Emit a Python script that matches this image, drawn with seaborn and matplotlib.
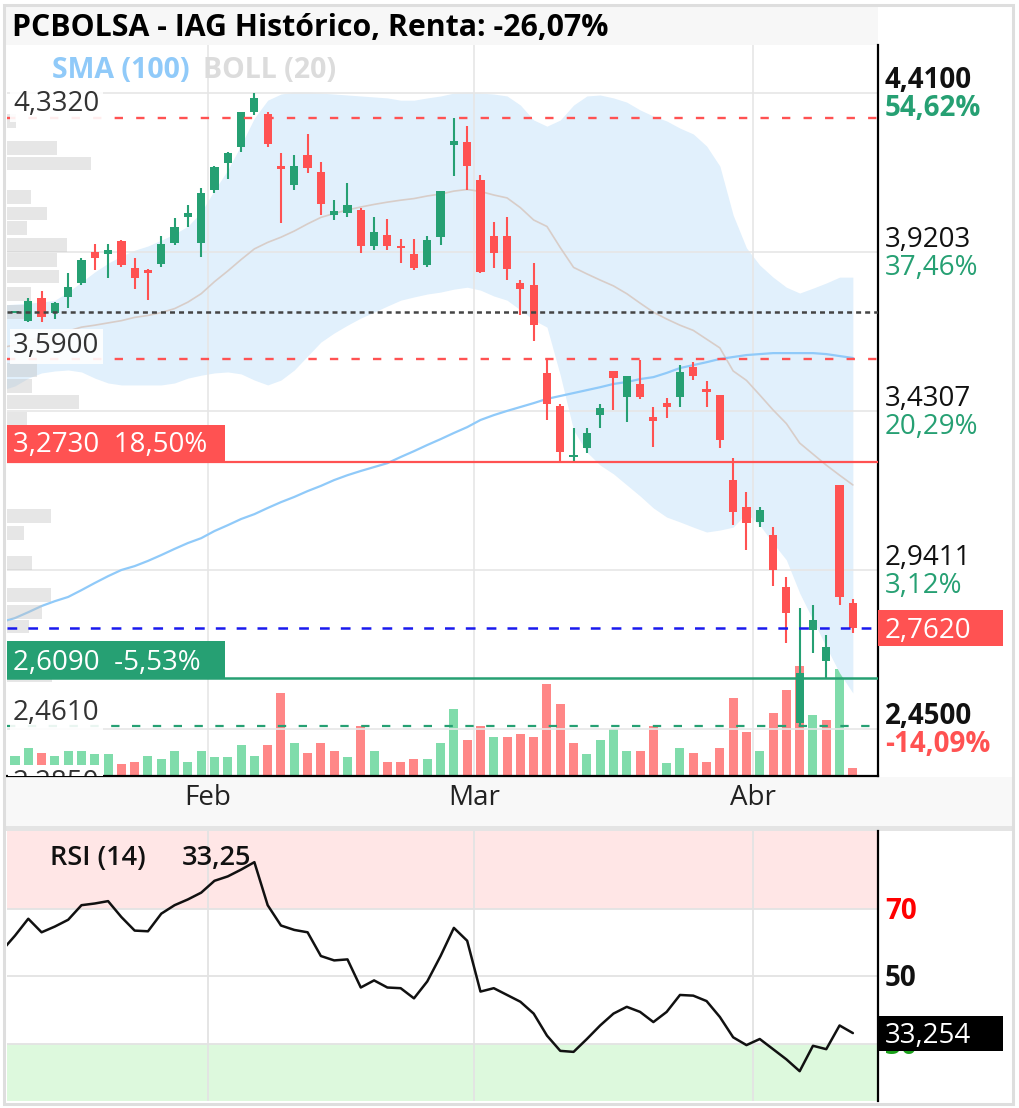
import numpy as np
import pandas as pd
import matplotlib
matplotlib.use('Agg')
import matplotlib.pyplot as plt
import seaborn as sns
from matplotlib.patches import Rectangle
from matplotlib.transforms import blended_transform_factory as blend

sns.set_theme(style='white')
plt.rcParams['font.family'] = ['Open Sans', 'DejaVu Sans']
plt.rcParams['lines.scale_dashes'] = False

# sesiones del 10-ene-2025 al 10-abr-2025
dates = pd.bdate_range('2025-01-10', '2025-04-10')
month_names = {1: 'Ene', 2: 'Feb', 3: 'Mar', 4: 'Abr'}

opens = [3.732, 3.734, 3.709, 3.779, 3.732, 3.782, 3.825, 3.920, 3.914, 3.954,
         3.871, 3.865, 3.883, 3.948, 4.028, 3.948, 4.111, 4.194, 4.244, 4.351,
         4.345, 4.185, 4.127, 4.219, 4.167, 4.034, 4.040, 4.050, 3.939, 3.973,
         3.939, 3.914, 3.880, 3.966, 4.250, 4.259, 4.142, 3.970, 3.970, 3.825,
         3.819, 3.548, 3.446, 3.289, 3.317, 3.418, 3.554, 3.474, 3.514, 3.412,
         3.455, 3.474, 3.566, 3.498, 3.480, 3.218, 3.135, 3.089, 3.049, 2.888,
         2.470, 2.756, 2.660, 3.203, 2.839]
highs = [3.742, 3.738, 3.779, 3.800, 3.766, 3.856, 3.902, 3.945, 3.945, 3.957,
         3.902, 3.868, 3.970, 4.025, 4.065, 4.117, 4.185, 4.228, 4.351, 4.410,
         4.351, 4.225, 4.219, 4.284, 4.198, 4.080, 4.133, 4.056, 4.028, 4.022,
         3.960, 3.960, 3.970, 4.108, 4.332, 4.308, 4.157, 4.013, 4.028, 3.834,
         3.886, 3.590, 3.452, 3.378, 3.378, 3.452, 3.554, 3.538, 3.588, 3.443,
         3.471, 3.572, 3.581, 3.523, 3.480, 3.286, 3.181, 3.135, 3.073, 2.919,
         2.824, 2.833, 2.741, 3.203, 2.851]
lows = [3.705, 3.732, 3.705, 3.705, 3.714, 3.748, 3.819, 3.865, 3.840, 3.874,
        3.806, 3.772, 3.874, 3.942, 3.997, 3.905, 4.102, 4.145, 4.228, 4.342,
        4.244, 4.010, 4.111, 4.164, 4.034, 4.019, 4.028, 3.917, 3.926, 3.926,
        3.886, 3.865, 3.874, 3.942, 4.154, 4.111, 3.856, 3.871, 3.834, 3.726,
        3.646, 3.403, 3.273, 3.273, 3.301, 3.378, 3.434, 3.398, 3.467, 3.320,
        3.409, 3.443, 3.526, 3.443, 3.317, 3.079, 3.002, 3.073, 2.892, 2.716,
        2.461, 2.685, 2.609, 2.833, 2.747]
closes = [3.711, 3.736, 3.770, 3.720, 3.763, 3.812, 3.896, 3.902, 3.926, 3.880,
          3.840, 3.856, 3.945, 3.997, 4.040, 4.102, 4.182, 4.225, 4.351, 4.395,
          4.253, 4.176, 4.185, 4.179, 4.068, 4.046, 4.065, 3.939, 3.982, 3.939,
          3.933, 3.871, 3.957, 4.108, 4.262, 4.185, 3.859, 3.917, 3.868, 3.806,
          3.695, 3.452, 3.304, 3.295, 3.363, 3.440, 3.532, 3.538, 3.474, 3.400,
          3.443, 3.551, 3.538, 3.489, 3.341, 3.119, 3.086, 3.126, 2.941, 2.808,
          2.624, 2.787, 2.704, 2.858, 2.762]
# volumen en millones de títulos
volumes = [10, 10, 14, 11.5, 10, 12.5, 12.5, 11, 11, 6,
           7, 10, 8.5, 12.5, 7, 12.5, 9.5, 9.5, 15.5, 10,
           15.5, 41.5, 16.5, 11.5, 16.5, 12.5, 9.5, 25, 12.5, 7,
           7, 8.5, 8.5, 16.5, 33.5, 18, 25, 19.5, 19.5, 21,
           19.5, 46, 36, 16.5, 11, 18, 23.5, 12.5, 12.5, 25,
           6.5, 14, 11.5, 7, 14, 39, 22, 12.5, 31.5, 43,
           55, 30.5, 28, 53.5, 4]
boll_upper = [3.757, 3.760, 3.763, 3.766, 3.772, 3.797, 3.828, 3.859, 3.886, 3.908,
              3.926, 3.939, 3.957, 3.976, 4.000, 4.043, 4.111, 4.173, 4.250, 4.333,
              4.388, 4.407, 4.413, 4.413, 4.410, 4.407, 4.404, 4.401, 4.398, 4.395,
              4.388, 4.388, 4.395, 4.401, 4.410, 4.413, 4.410, 4.407, 4.401, 4.373,
              4.327, 4.308, 4.327, 4.373, 4.401, 4.404, 4.395, 4.382, 4.358, 4.339,
              4.324, 4.302, 4.284, 4.247, 4.185, 4.034, 3.933, 3.880, 3.843, 3.812,
              3.794, 3.809, 3.825, 3.843, 3.843]
boll_mid = [3.626, 3.634, 3.648, 3.657, 3.663, 3.677, 3.689, 3.695, 3.702, 3.709,
            3.719, 3.725, 3.734, 3.746, 3.766, 3.792, 3.829, 3.862, 3.897, 3.930,
            3.950, 3.966, 3.985, 4.007, 4.027, 4.039, 4.050, 4.059, 4.067, 4.074,
            4.080, 4.085, 4.093, 4.099, 4.108, 4.113, 4.107, 4.096, 4.087, 4.057,
            4.019, 3.999, 3.934, 3.873, 3.853, 3.834, 3.816, 3.792, 3.763, 3.735,
            3.714, 3.695, 3.679, 3.652, 3.625, 3.554, 3.525, 3.480, 3.434, 3.392,
            3.332, 3.298, 3.264, 3.233, 3.203]
boll_lower = [3.495, 3.508, 3.532, 3.548, 3.554, 3.557, 3.551, 3.532, 3.517, 3.511,
              3.511, 3.511, 3.511, 3.517, 3.532, 3.541, 3.548, 3.551, 3.545, 3.526,
              3.511, 3.526, 3.557, 3.600, 3.643, 3.671, 3.695, 3.717, 3.735, 3.754,
              3.772, 3.782, 3.791, 3.797, 3.806, 3.812, 3.803, 3.785, 3.772, 3.742,
              3.711, 3.689, 3.541, 3.372, 3.304, 3.264, 3.237, 3.203, 3.169, 3.132,
              3.104, 3.089, 3.073, 3.058, 3.064, 3.073, 3.116, 3.079, 3.024, 2.972,
              2.870, 2.787, 2.704, 2.624, 2.562]
sma100 = [2.781, 2.793, 2.811, 2.830, 2.845, 2.858, 2.879, 2.901, 2.922, 2.941,
          2.953, 2.969, 2.987, 3.006, 3.024, 3.039, 3.061, 3.079, 3.098, 3.113,
          3.132, 3.150, 3.166, 3.184, 3.200, 3.218, 3.233, 3.246, 3.258, 3.270,
          3.289, 3.307, 3.326, 3.344, 3.363, 3.381, 3.403, 3.418, 3.431, 3.443,
          3.455, 3.468, 3.477, 3.486, 3.495, 3.504, 3.514, 3.520, 3.529, 3.535,
          3.548, 3.563, 3.572, 3.581, 3.591, 3.597, 3.603, 3.606, 3.609, 3.609,
          3.609, 3.609, 3.606, 3.600, 3.594]
rsi14 = [57.5, 62.0, 67.0, 63.0, 64.7, 66.7, 71.0, 71.5, 72.2, 67.5,
         63.5, 63.3, 68.5, 71.0, 72.7, 74.7, 78.2, 79.5, 81.5, 83.7,
         71.0, 65.0, 63.7, 63.0, 56.0, 54.7, 55.0, 46.7, 48.8, 46.7,
         46.5, 43.5, 48.5, 56.0, 64.3, 60.5, 45.5, 46.5, 44.5, 42.5,
         39.0, 32.5, 28.0, 27.7, 31.5, 35.5, 39.0, 41.0, 39.5, 36.5,
         39.5, 44.5, 44.3, 42.7, 38.0, 32.0, 29.7, 31.5, 28.5, 25.5,
         22.0, 29.5, 28.5, 35.5, 33.25]

# perfil de volumen por precio
profile_price = [4.325, 4.242, 4.193, 4.091, 4.039, 3.993, 3.943, 3.896, 3.845, 3.792, 3.737,
                 3.557, 3.509, 3.457, 3.407, 3.107, 3.056, 2.964, 2.864, 2.813, 2.767, 2.617]
profile_vol = [9, 50, 84, 24, 40, 20, 60, 50, 52, 24, 25, 30, 25, 72, 20, 44, 17, 25, 44, 35, 22, 45]

price_grid = [4.41, 3.9203, 3.4307, 2.9411, 2.45]
grid_pct = ['54,62%', '37,46%', '20,29%', '3,12%', '-14,09%']
rsi_levels = [70, 50, 30]

max_level = 4.332
ref_close = 3.736
res_level = 3.590
sup_level = 3.273
last_close = 2.762
sup2_level = 2.609
min_level = 2.461
low_cut_level = 2.285

GREEN = '#26a073'
RED = '#ff5252'

def fmt(v, d=4):
    return f'{v:.{d}f}'.replace('.', ',')

n = len(closes)
x = np.arange(n) - 1
o = np.array(opens); c = np.array(closes)
up = c >= o
candle_col = np.where(up, GREEN, RED)
prev = np.r_[o[0], c[:-1]]
vol_col = np.where(c >= prev, '#80dcab', '#ff8787')

W, H = 1020, 1108
def box(x0, y0, x1, y1):
    return [x0 / W, 1 - y1 / H, (x1 - x0) / W, (y1 - y0) / H]

fig = plt.figure(figsize=(W / 100, H / 100), dpi=100)
for r, col in [((5, 5, 878, 45), '#f7f7f7'), ((5, 777, 1013, 826), '#f8f8f8'),
               ((5, 826, 1013, 831), '#e4e4e4')]:
    b = box(*r)
    fig.add_artist(Rectangle((b[0], b[1]), b[2], b[3], transform=fig.transFigure,
                             fc=col, ec='none', zorder=-5))

# ---------- panel de precios ----------
ax = fig.add_axes(box(7, 45, 878, 776))
axv = ax.twinx()
ax.set_zorder(axv.get_zorder() + 1)
ax.patch.set_visible(False)
axv.patch.set_visible(False)

ax.set_xlim(-0.6, 64.89)
ax.set_ylim(2.3065, 4.558)
axv.set_ylim(0, 365.5)
ppp = (4.558 - 2.3065) / 731

axv.bar(x, volumes, width=0.68, color=vol_col, lw=0)
axv.set_yticks([])
for s in axv.spines.values():
    s.set_visible(False)

month_pos = [x[k] - 0.5 for k in range(1, n) if dates[k].month != dates[k - 1].month]
month_lab = [month_names[dates[k].month] for k in range(1, n) if dates[k].month != dates[k - 1].month]
ax.set_xticks(month_pos)
ax.set_xticklabels(month_lab)
ax.set_yticks(price_grid)
ax.set_axisbelow('line')
ax.grid(True, color='#e6e6e6', lw=1.2)
ax.tick_params(axis='y', length=0, labelleft=False, labelright=False)
ax.tick_params(axis='x', length=0, pad=6, labelsize=20, labelcolor='#222222')
for s in ['left', 'top']:
    ax.spines[s].set_visible(False)
for s in ['right', 'bottom']:
    ax.spines[s].set_color('black')
    ax.spines[s].set_linewidth(1.6)

ax.fill_between(x, boll_lower, boll_upper, color='#e1f0fc', lw=0, zorder=1)
ax.plot(x, boll_mid, color='#d8cdc8', lw=1.2, zorder=2)
ax.plot(x, sma100, color='#90caf9', lw=1.6, zorder=2)
ax.barh(profile_price, np.array(profile_vol) / 13.3, height=0.043, left=-0.6,
        color='#c4c4c4', alpha=0.42, lw=0, zorder=2.2)

ax.vlines(x, lows, highs, colors=candle_col, lw=1.5, zorder=4)
ax.bar(x, np.maximum(np.abs(c - o), 0.006), bottom=np.minimum(o, c), width=0.62,
       color=candle_col, lw=0, zorder=5)

ax.axhline(max_level, color=RED, lw=1.7, dashes=(6, 9.5), zorder=6)
ax.axhline(ref_close, color='#444444', lw=1.8, dashes=(3.6, 2.9), zorder=6)
ax.axhline(res_level, color=RED, lw=1.7, dashes=(6, 9.5), zorder=6)
ax.axhline(sup_level, color=RED, lw=1.6, zorder=6)
ax.axhline(last_close, color='#1a1aee', lw=1.8, dashes=(7, 8), zorder=6)
ax.axhline(sup2_level, color=GREEN, lw=1.8, zorder=6)
ax.axhline(min_level, color=GREEN, lw=1.6, dashes=(6, 9), zorder=6)

bt = blend(ax.transAxes, ax.transData)
for v, dy in [(max_level, 7), (res_level, 6), (min_level, 6)]:
    ax.annotate(fmt(v), xy=(0, v), xycoords=bt, xytext=(6, dy), textcoords='offset pixels',
                va='baseline', ha='left', fontsize=20, color='#333333', zorder=9,
                bbox=dict(boxstyle='square,pad=0.12', fc='white', ec='none', alpha=0.9))
t = ax.text(0.006, low_cut_level, fmt(low_cut_level), transform=bt, va='center', ha='left',
            fontsize=20, color='#333333', zorder=9, clip_on=True,
            bbox=dict(boxstyle='square,pad=0.15', fc='white', ec='none'))
t.set_clip_box(ax.bbox)

for v, txt, col, dy in [(sup_level, '3,2730  18,50%', RED, 10), (sup2_level, '2,6090  -5,53%', GREEN, 8)]:
    ax.add_patch(Rectangle((0, v), 218 / 871, 37 * ppp, transform=bt, fc=col, ec='none', zorder=8))
    ax.annotate(txt, xy=(0, v), xycoords=bt, xytext=(6, dy), textcoords='offset pixels',
                va='baseline', ha='left', fontsize=20, color='white', zorder=9)

for v, pct in zip(price_grid, grid_pct):
    strong = v in (price_grid[0], price_grid[-1])
    pcol = GREEN if not pct.startswith('-') else RED
    ax.annotate(fmt(v), xy=(1, v), xycoords=bt, xytext=(7, 5), textcoords='offset pixels',
                va='baseline', ha='left', fontsize=20, color='#111111',
                weight='bold' if strong else 'normal')
    ax.annotate(pct, xy=(1, v), xycoords=bt, xytext=(7, -23), textcoords='offset pixels',
                va='baseline', ha='left', fontsize=20, color=pcol,
                weight='bold' if strong else 'normal')

ax.add_patch(Rectangle((1, last_close - 18 * ppp), 125 / 871, 36 * ppp, transform=bt,
                       fc=RED, ec='none', zorder=9, clip_on=False))
ax.annotate(fmt(last_close), xy=(1, last_close), xycoords=bt, xytext=(7, -10),
            textcoords='offset pixels', va='baseline', ha='left', fontsize=20,
            color='white', zorder=10)

fig.text(52 / W, 1 - 78 / H, 'SMA (100)', color='#90caf9', fontsize=20.5, weight='bold', va='baseline')
fig.text(203 / W, 1 - 78 / H, 'BOLL (20)', color='#dcdcdc', fontsize=20.5, weight='bold', va='baseline')
fig.text(12 / W, 1 - 36 / H, 'PCBOLSA - IAG Histórico, Renta: -26,07%', fontsize=21.8,
         weight='bold', color='black', va='baseline')

# ---------- panel RSI ----------
axr = fig.add_axes(box(7, 831, 878, 1101), sharex=ax)
axr.set_ylim(13.2, 92.9)
axr.axhspan(70, 100, color='#ffe6e6', lw=0, zorder=0)
axr.axhspan(0, 30, color='#ddf9dd', lw=0, zorder=0)
axr.plot(x, rsi14, color='#111111', lw=1.8, zorder=3)
axr.set_yticks(rsi_levels)
axr.set_axisbelow('line')
axr.grid(True, color='#e3e3e3', lw=1.3)
axr.tick_params(length=0, labelbottom=False, labelleft=False)
for s in ['left', 'top', 'bottom']:
    axr.spines[s].set_visible(False)
axr.spines['right'].set_color('black')
axr.spines['right'].set_linewidth(1.6)

br = blend(axr.transAxes, axr.transData)
for lv, col in zip(rsi_levels, ['#ff0000', '#111111', '#1aa01a']):
    axr.annotate(str(lv), xy=(1, lv), xycoords=br, xytext=(7, -10), textcoords='offset pixels',
                 va='baseline', ha='left', fontsize=20, color=col, weight='bold')
axr.add_patch(Rectangle((1, rsi14[-1] - 17.5 / 3.39), 125 / 871, 35 / 3.39, transform=br,
                        fc='black', ec='none', zorder=9, clip_on=False))
axr.annotate(fmt(rsi14[-1] + 0.004, 3), xy=(1, rsi14[-1]), xycoords=br, xytext=(7, -10),
             textcoords='offset pixels', va='baseline', ha='left', fontsize=20,
             color='white', zorder=10)
fig.text(50 / W, 1 - 865 / H, 'RSI (14)', fontsize=19.5, color='#111111', va='baseline', weight='semibold')
fig.text(182 / W, 1 - 865 / H, fmt(rsi14[-1], 2), fontsize=19.5, color='#111111', va='baseline', weight='semibold')

fig.add_artist(Rectangle((4.5 / W, 4.5 / H), 1009 / W, 1099 / H, transform=fig.transFigure,
                         fill=False, ec='#dedede', lw=2.2, zorder=20))

fig.savefig('out.png', dpi=100)
